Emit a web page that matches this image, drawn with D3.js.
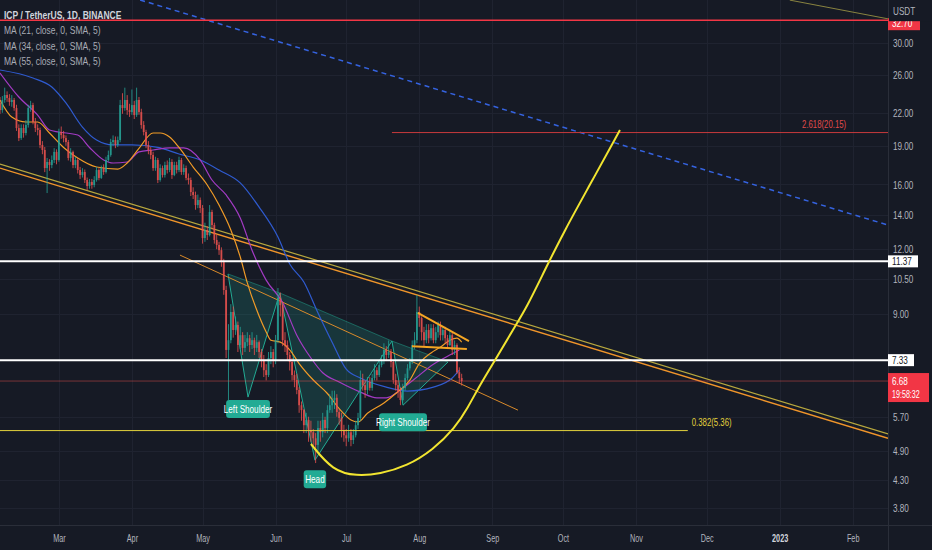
<!DOCTYPE html>
<html><head><meta charset="utf-8">
<script src="https://cdn.jsdelivr.net/npm/d3@7"></script>
<style>
html,body{margin:0;padding:0;background:#161a25;overflow:hidden;}
svg{display:block;font-family:"Liberation Sans",Arial,sans-serif;}
</style></head><body>
<svg id="c" width="932" height="550"></svg>
<script>
// ---------------- DATA ----------------
const startDate = "2022-02-04";           // first daily candle
const firstOpen = 23.0;
const closes = [22.27,23.29,23.81,23.50,23.08,23.29,22.47,20.56,19.66,20.56,
20.11,20.84,22.47,22.77,21.12,20.56,20.38,19.07,18.65,17.21,
17.68,17.44,17.84,18.49,17.84,20.20,19.93,19.66,19.32,18.00,
18.49,17.44,17.84,17.06,16.69,16.91,16.32,15.89,16.18,15.96,
16.32,17.06,16.47,17.21,16.91,17.84,18.24,19.32,19.49,19.07,
19.49,22.77,22.47,23.29,22.27,22.07,22.77,21.78,23.29,22.07,
20.84,20.20,19.07,18.65,18.24,17.21,17.84,16.32,17.21,16.69,
17.44,17.06,17.68,16.69,17.44,17.06,17.84,16.91,17.21,16.47,
16.32,15.47,15.27,14.60,14.93,14.41,12.61,13.07,12.78,14.16,
13.36,12.50,12.23,11.95,11.33,10.01,7.67,8.01,9.08,8.38,
8.57,7.84,8.19,7.74,7.94,8.08,7.84,8.01,7.74,7.94,
7.60,7.33,7.01,6.86,7.40,7.60,7.33,8.01,9.66,9.36,
8.01,7.84,7.50,7.27,6.86,6.71,6.42,6.00,5.87,5.49,
5.62,5.37,5.32,5.18,5.03,5.42,5.32,5.62,5.42,5.87,
6.00,6.14,6.20,5.82,5.67,5.37,5.25,5.18,5.32,5.14,
5.25,5.49,5.67,6.71,6.56,6.42,6.65,6.48,6.77,7.01,
6.86,7.17,7.33,7.67,7.50,7.60,7.27,6.71,6.56,6.36,
6.14,6.48,6.77,7.07,7.27,7.84,8.01,9.08,8.84,8.30,
8.01,8.38,8.08,8.45,8.01,8.30,8.57,8.19,8.38,8.08,
7.84,8.19,7.67,7.84,6.95,6.77,6.68];
const highs = [23.6,23.7,24.6,24.2,23.9,23.8,23.5,22.8,20.9,20.9,
20.9,21.3,22.8,23.2,23.0,21.5,20.9,20.6,19.4,18.9,
18.0,17.9,18.2,18.8,18.7,20.5,20.7,20.3,19.9,19.5,
18.8,18.6,18.1,18.0,17.3,17.2,17.1,16.5,16.4,16.4,
16.6,17.3,17.2,17.4,17.5,18.1,18.6,19.6,19.9,19.8,
19.8,23.3,24.0,24.6,23.8,22.9,24.4,23.2,24.6,23.6,
22.4,21.2,20.4,19.4,18.9,18.5,18.1,18.0,17.5,17.4,
17.7,17.8,18.0,17.9,17.7,17.7,18.1,18.0,17.5,17.4,
16.8,16.5,15.8,15.5,15.3,15.1,14.6,13.5,13.3,14.6,
14.3,13.5,12.8,12.4,12.1,11.5,10.2,8.6,9.4,9.3,
8.9,8.7,8.5,8.3,8.2,8.3,8.2,8.3,8.1,8.2,
8.0,7.7,7.5,7.2,7.6,7.8,7.7,8.2,10.1,9.9,
9.5,8.3,8.0,7.6,7.4,7.0,6.9,6.5,6.1,5.9,
5.8,5.7,5.6,5.4,5.3,5.6,5.6,5.8,5.7,6.0,
6.3,6.4,6.4,6.3,5.9,5.8,5.5,5.4,5.5,5.4,
5.4,5.6,5.8,7.0,6.9,6.7,6.8,6.8,6.9,7.2,
7.1,7.3,7.5,7.9,7.8,8.0,7.7,7.3,6.9,6.7,
6.5,6.6,6.9,7.2,7.4,8.0,8.3,9.79,9.3,8.9,
8.5,8.6,8.6,8.6,8.6,8.5,8.7,8.7,8.5,8.5,
8.2,8.4,8.3,8.0,7.9,7.1,6.9];
const lows = [21.9,22.0,23.0,23.1,22.7,22.6,22.2,20.3,19.4,19.5,
19.7,19.9,20.6,22.1,20.9,20.2,19.9,18.8,18.3,16.9,
15.4,17.0,17.2,17.6,17.5,17.7,19.6,19.3,19.0,17.8,
17.7,17.2,17.2,16.8,16.4,16.5,16.1,15.6,15.7,15.7,
15.8,16.2,16.3,16.4,16.7,16.8,17.7,18.1,19.0,18.8,
18.9,19.3,21.9,22.2,21.8,21.6,21.8,21.4,21.6,21.8,
20.5,19.9,18.8,18.3,17.9,17.0,17.0,16.1,16.2,16.5,
16.5,16.8,16.9,16.4,16.6,16.8,16.9,16.7,16.7,16.3,
16.0,15.2,15.0,14.3,14.4,14.1,12.3,12.4,12.5,12.7,
13.1,12.3,12.0,11.7,11.1,9.8,7.4,6.14,7.9,8.1,
8.2,7.6,7.7,7.5,7.6,7.8,7.6,7.7,7.5,7.6,
7.4,7.1,6.8,6.7,6.8,7.2,7.1,7.2,7.9,8.9,
7.8,7.6,7.3,7.0,6.7,6.5,6.3,5.8,5.6,5.3,
5.3,5.1,5.1,4.95,4.64,4.9,5.1,5.2,5.3,5.3,
5.8,5.8,5.9,5.7,5.5,5.2,5.1,5.0,5.1,5.0,
5.05,5.2,5.4,5.6,6.4,6.2,6.3,6.4,6.4,6.7,
6.7,6.8,7.1,7.2,7.3,7.4,7.1,6.6,6.4,6.2,
6.0,6.1,6.4,6.7,7.0,7.2,7.7,7.9,8.5,8.0,
7.8,7.9,7.9,8.0,7.9,7.9,8.1,8.0,8.0,7.9,
7.7,7.8,7.5,7.5,6.9,6.6,6.55];

// Moving averages: [day index, price]
const ma21 = [[0,23.29],[5,21.59],[11,21.12],[16,21.12],[21,20.11],[27,18.86],[33,17.99],[41,17.29],[50,17.13],[54,17.60],[59,18.78],[65,20.11],[68,20.11],[72,19.75],[76,18.86],[82,17.29],[88,15.96],[93,14.60],[98,13.07],[102,11.59],[105,10.33],[110,8.92],[113,8.31],[115,8.01],[119,7.94],[123,7.67],[127,7.22],[133,6.71],[139,6.32],[144,5.91],[149,5.62],[152,5.57],[156,5.79],[163,6.06],[168,6.32],[174,6.71],[178,7.22],[183,7.57],[187,7.77],[191,8.01],[194,8.08],[196,7.94]];
const ma34 = [[0,26.26],[8,23.60],[16,21.78],[21,20.38],[25,20.20],[33,19.93],[38,18.86],[44,17.84],[48,17.60],[54,17.68],[59,18.49],[65,18.65],[72,18.82],[78,18.82],[85,17.84],[90,16.32],[96,15.27],[102,13.79],[107,11.95],[113,10.46],[120,9.47],[126,8.19],[132,7.40],[137,6.93],[144,6.65],[153,6.36],[160,6.20],[164,6.20],[170,6.42],[176,6.74],[184,7.20],[192,7.54],[195,7.67]];
const ma55 = [[0,26.61],[14,25.68],[22,24.67],[28,22.98],[35,20.65],[41,19.49],[48,19.07],[56,19.07],[67,18.86],[76,18.32],[85,17.84],[93,17.06],[102,16.11],[110,14.47],[118,12.67],[123,11.24],[129,10.37],[135,9.04],[141,7.94],[147,7.04],[153,6.77],[164,6.50],[173,6.39],[184,6.50],[192,6.77],[195,7.01]];
const maLabels = ["MA (21, close, 0, SMA, 5)","MA (34, close, 0, SMA, 5)","MA (55, close, 0, SMA, 5)"];
const title = "ICP / TetherUS, 1D, BINANCE";

// Axis ticks
const monthTicks = ["2022-03-01","2022-04-01","2022-05-01","2022-06-01","2022-07-01","2022-08-01","2022-09-01","2022-10-01","2022-11-01","2022-12-01","2023-01-01","2023-02-01"];
const monthLabels = ["Mar","Apr","May","Jun","Jul","Aug","Sep","Oct","Nov","Dec","2023","Feb"];
const priceTicks = [30,26,22,19,16,14,12,10.5,9,5.7,4.9,4.3,3.8];

// Drawings: [day index, price]
const topLevel = 33.2, topLabel = "32.70";
const resistance = 11.37, support = 7.33, lastPrice = 6.68, countdown = "19:58:32";
const fib382 = {label:"0.382(5.36)", price:5.36, from:0, to:292};
const fib2618 = {label:"2.618(20.15)", price:20.15, from:166.4, to:380};
const channelUpper = [[0,17.52],[377,5.28]];
const channelLower = [[0,17.21],[377,5.18]];
const blueDash = [[59.5,36.32],[377,13.36]];
const oliveLine = [[335.3,36.3],[377,33.4]];
const thinTrend = [[76.4,11.69],[219.9,5.87]];
const triUpper = [[177.4,9.04],[199.1,7.98]];
const triLower = [[174.9,7.80],[198.2,7.70]];
const cup = [[132.0,5.05],[141.3,4.48],[151.5,4.38],[161.3,4.42],[172.8,4.58],[183.8,4.92],[193.1,5.42],[198.6,5.93],[203.7,6.56],[211,7.43],[217.7,8.38],[223.7,9.28],[231.3,10.94],[239.8,13.07],[250.4,15.96],[263.2,20.38]];
const hs = [[96.8,10.75],[105.3,6.22],[118.8,9.88],[133.7,4.70],[166.4,7.98],[171.1,6.00],[190.2,7.27]];
const hsLabels = [{p:1,text:"Left Shoulder",dy:3},{p:3,text:"Head",dy:10},{p:5,text:"Right Shoulder",dy:8}];

// ---------------- CHART ----------------
const W=932,H=550,PW=888,PH=525;
const svg=d3.select('#c');
const DAY=864e5;
const t0=Date.parse(startDate+"T00:00:00Z");
const dt=d=>new Date(t0+d*DAY);
const x=d3.scaleUtc().domain([dt(0),dt(377)]).range([0,PW]);
const y=d3.scaleLog().domain([3.8,30]).range([508,43]);
const px=p=>[x(dt(p[0])),y(p[1])];
const COND=0.74;
function condense(sel,r){sel.each(function(){const L=this.getComputedTextLength();if(L>0){this.setAttribute('textLength',(L*(r||COND)).toFixed(1));this.setAttribute('lengthAdjust','spacingAndGlyphs');}});}

svg.append('rect').attr('width',W).attr('height',H).attr('fill','#161a25');
svg.append('defs').append('clipPath').attr('id','clip').append('rect').attr('width',PW).attr('height',PH);

// grid
const grid=svg.append('g').attr('clip-path','url(#clip)');
grid.selectAll('line.h').data(priceTicks).join('line').attr('x1',0).attr('x2',PW)
  .attr('y1',d=>Math.round(y(d))+0.5).attr('y2',d=>Math.round(y(d))+0.5).attr('stroke','#1f2330');
grid.selectAll('line.v').data(monthTicks).join('line').attr('y1',0).attr('y2',PH)
  .attr('x1',d=>Math.round(x(new Date(d+"T00:00:00Z")))+0.5).attr('x2',d=>Math.round(x(new Date(d+"T00:00:00Z")))+0.5).attr('stroke','#1f2330');

const g=svg.append('g').attr('clip-path','url(#clip)');
const seg=(pts,stroke,w,dash,op)=>g.append('path').attr('d',d3.line()(pts.map(px))).attr('fill','none')
  .attr('stroke',stroke).attr('stroke-width',w).attr('stroke-dasharray',dash||null).attr('opacity',op||1);

// Head & shoulders pattern fill
const hsP=hs.map(px);
[[0,1,2],[2,3,4],[4,5,6]].forEach(t=>{
  g.append('path').attr('d',d3.line()(t.map(k=>hsP[k]))+'Z').attr('fill','rgba(34,171,148,0.20)').attr('stroke','none');
});
g.append('path').attr('d',d3.line()(hsP)).attr('fill','none').attr('stroke','#22ab94').attr('stroke-width',1);
g.append('path').attr('d',d3.line()([hsP[0],hsP[2],hsP[4],hsP[6]])).attr('fill','none').attr('stroke','#22ab94').attr('stroke-width',0.8).attr('opacity',0.6);

// background trend lines
seg(blueDash,'#3563e0',1.5,'5,4');
seg(oliveLine,'#8a8440',1);
seg(channelUpper,'#b8a83e',1.2);
seg(channelLower,'#f0952a',1.4);
seg(thinTrend,'#d98a2a',1);

// top red level
g.append('line').attr('x1',0).attr('x2',PW).attr('y1',y(topLevel)).attr('y2',y(topLevel)).attr('stroke','#f23645').attr('stroke-width',1.5);

// MAs
const maLine=d3.line().x(d=>x(dt(d[0]))).y(d=>y(d[1])).curve(d3.curveMonotoneX);
[[ma55,'#2f5bd0'],[ma34,'#a33bc4'],[ma21,'#f29c27']].forEach(([d,c])=>{
  g.append('path').attr('d',maLine(d)).attr('fill','none').attr('stroke',c).attr('stroke-width',1.2);
});

// candles
const UP='#26a69a',DN='#ef5350';
const candles=closes.map((c,i)=>({i,o:i?closes[i-1]:firstOpen,c,h:highs[i],l:lows[i]}));
const cg=g.append('g').attr('opacity',0.88);
cg.selectAll('line').data(candles).join('line')
  .attr('x1',d=>x(dt(d.i))).attr('x2',d=>x(dt(d.i)))
  .attr('y1',d=>y(d.h)).attr('y2',d=>y(d.l))
  .attr('stroke',d=>d.c>=d.o?UP:DN).attr('stroke-width',0.9);
cg.selectAll('rect').data(candles).join('rect')
  .attr('x',d=>x(dt(d.i))-0.9).attr('width',1.8)
  .attr('y',d=>y(Math.max(d.o,d.c))).attr('height',d=>Math.max(1,Math.abs(y(d.o)-y(d.c))))
  .attr('fill',d=>d.c>=d.o?UP:DN);

// levels
[resistance,support].forEach(v=>g.append('line').attr('x1',0).attr('x2',PW).attr('y1',y(v)).attr('y2',y(v)).attr('stroke','#ffffff').attr('stroke-width',2));
g.append('line').attr('x1',0).attr('x2',PW).attr('y1',y(lastPrice)).attr('y2',y(lastPrice)).attr('stroke','#ef5350').attr('stroke-width',1).attr('opacity',0.45);

// fib levels
g.append('line').attr('x1',x(dt(fib382.from))).attr('x2',x(dt(fib382.to))).attr('y1',y(fib382.price)).attr('y2',y(fib382.price)).attr('stroke','#e3d23c').attr('stroke-width',1);
g.append('line').attr('x1',x(dt(fib2618.from))).attr('x2',x(dt(fib2618.to))).attr('y1',y(fib2618.price)).attr('y2',y(fib2618.price)).attr('stroke','#c73a3c').attr('stroke-width',1);
g.append('text').attr('x',x(dt(fib382.to))+4).attr('y',y(fib382.price)-5).attr('fill','#e3d23c').attr('font-size',10.5).text(fib382.label).call(condense);
g.append('text').attr('x',x(dt(fib2618.to))-93).attr('y',y(fib2618.price)-5).attr('fill','#e04a4a').attr('font-size',10.5).text(fib2618.label).call(condense);

// triangle
seg(triUpper,'#f5a623',2);
seg(triLower,'#f5a623',2);

// cup curve
g.append('path').attr('d',d3.line().x(d=>x(dt(d[0]))).y(d=>y(d[1])).curve(d3.curveBasis)(cup))
  .attr('fill','none').attr('stroke','#f2e530').attr('stroke-width',2);

// H&S labels
hsLabels.forEach(L=>{
  const [cx,cy]=hsP[L.p];
  const lg=g.append('g');
  const t=lg.append('text').attr('x',cx).attr('y',cy+L.dy+13).attr('text-anchor','middle').attr('fill','#ffffff').attr('font-size',11).text(L.text);
  condense(t);
  const w=t.node().getComputedTextLength()*COND+8;
  lg.insert('rect','text').attr('x',cx-w/2).attr('y',cy+L.dy).attr('width',w).attr('height',18).attr('rx',3).attr('fill','#22ab94');
});

// axes
svg.append('line').attr('x1',PW+0.5).attr('x2',PW+0.5).attr('y1',0).attr('y2',H).attr('stroke','#2a2e39');
svg.append('line').attr('x1',0).attr('x2',W).attr('y1',PH+0.5).attr('y2',PH+0.5).attr('stroke','#2a2e39');
const ya=svg.append('g').attr('transform',`translate(${PW},0)`)
  .call(d3.axisRight(y).tickValues(priceTicks).tickFormat(d3.format('.2f')).tickSize(0).tickPadding(5));
ya.select('.domain').remove();
ya.selectAll('text').attr('fill','#b2b5be').attr('font-size',11).attr('font-family','Liberation Sans, Arial, sans-serif').call(condense);
const xa=svg.append('g').attr('transform',`translate(0,${PH})`)
  .call(d3.axisBottom(x).tickValues(monthTicks.map(s=>new Date(s+"T00:00:00Z"))).tickFormat((d,i)=>monthLabels[i]).tickSize(0).tickPadding(9));
xa.select('.domain').remove();
xa.selectAll('text').attr('fill',(d,i)=>monthLabels[i]==="2023"?'#d1d4dc':'#b2b5be').attr('font-weight',(d,i)=>monthLabels[i]==="2023"?'bold':null)
  .attr('font-size',11).attr('font-family','Liberation Sans, Arial, sans-serif').call(condense,0.66);

// price boxes
function box(v,fill,tcol,w,h){
  const yy=y(v);
  svg.append('rect').attr('x',PW).attr('y',yy-h/2).attr('width',w).attr('height',h).attr('fill',fill);
  svg.append('text').attr('x',PW+4).attr('y',yy+4).attr('fill',tcol).attr('font-size',11).text(d3.format('.2f')(v)).call(condense);
}
box(resistance,'#ffffff','#131722',30,12);
box(support,'#ffffff','#131722',26,12);
// top red box (mostly hidden under the unit header)
const ty=y(topLevel);
svg.append('rect').attr('x',PW).attr('y',ty-2).attr('width',32).attr('height',12).attr('fill','#f23645');
svg.append('text').attr('x',PW+4).attr('y',ty+7).attr('fill','#ffffff').attr('font-size',11).text(topLabel).call(condense);
svg.append('rect').attr('x',PW+1).attr('y',0).attr('width',W-PW).attr('height',ty+1).attr('fill','#161a25');
svg.append('text').attr('x',PW+5).attr('y',15).attr('fill','#b2b5be').attr('font-size',11).text('USDT').call(condense);
// last price box
const ly=y(lastPrice);
svg.append('rect').attr('x',PW).attr('y',ly-8).attr('width',41).attr('height',29).attr('fill','#f23645');
svg.append('text').attr('x',PW+4).attr('y',ly+4).attr('fill','#ffffff').attr('font-size',11).text(d3.format('.2f')(lastPrice)).call(condense);
svg.append('text').attr('x',PW+4).attr('y',ly+17).attr('fill','#ffffff').attr('font-size',10.5).text(countdown).call(condense,0.68);

// legend
svg.append('text').attr('x',4).attr('y',19).attr('fill','#d1d4dc').attr('font-size',11.5).attr('font-weight','bold').text(title).call(condense);
maLabels.forEach((t,i)=>svg.append('text').attr('x',4).attr('y',34+i*15.5).attr('fill','#a9acb5').attr('font-size',11.5).text(t).call(condense));
</script>
</body></html>
